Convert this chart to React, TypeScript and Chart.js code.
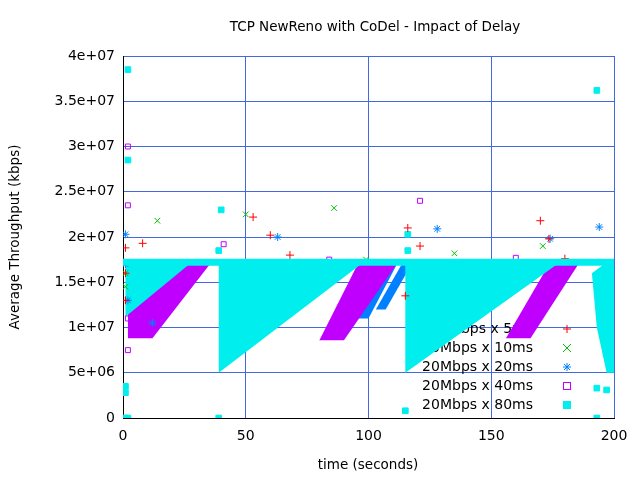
import { useEffect, useRef } from 'react'
import { Chart, registerables } from 'chart.js'

Chart.register(...registerables)

const FONT = '"DejaVu Sans", sans-serif'
const xTicks = [0, 50, 100, 150, 200]
const plateau = 1.72e7

const seriesNames = ['20Mbps x 5ms', '20Mbps x 10ms', '20Mbps x 20ms', '20Mbps x 40ms', '20Mbps x 80ms']
const seriesColors = ['#ff0000', '#00c000', '#0080ff', '#c000ff', '#00eeee']
const seriesStyles = ['cross', 'crossRot', 'star', 'rect', 'rect']

// scattered outliers, [time, kbps]
const pts5ms = [[1, 1.88e7], [1, 1.3e7], [1, 1.6e7], [8, 1.93e7], [53, 2.22e7], [60, 2.02e7], [68, 1.8e7], [116, 2.1e7], [121, 1.9e7], [115, 1.35e7], [170, 2.18e7], [173.5, 1.98e7], [180, 1.76e7]]
const pts10ms = [[1, 1.6e7], [1, 1.45e7], [14, 2.18e7], [50, 2.25e7], [86, 2.32e7], [99, 1.75e7], [135, 1.82e7], [171, 1.9e7]]
const pts20ms = [[1, 2.03e7], [1, 1.7e7], [2, 1.3e7], [12, 1.05e7], [63, 2e7], [128, 2.09e7], [174, 1.98e7], [194, 2.11e7]]
const pts40ms = [[2, 3e7], [2, 2.35e7], [2, 1.1e7], [2, 7.5e6], [41, 1.92e7], [84, 1.75e7], [121, 2.4e7], [160, 1.77e7]]
const pts80ms = [[2, 3.85e7], [2, 2.85e7], [1, 3.5e6], [1, 2.8e6], [1, 0], [2, 0], [40, 2.3e7], [39, 1.85e7], [39, 0], [116, 2.03e7], [116, 1.85e7], [115, 8e5], [193, 3.62e7], [193, 3.3e6], [197, 3.1e6], [193, 0]]

// dense sawtooth regions, outlines
const blueAreas = [
  [[10, 1.05e7], [14, 1.05e7], [30, plateau], [24, plateau]],
  [[52, 1.1e7], [56, 1.1e7], [68, plateau], [62, plateau]],
  [[96, 1.1e7], [100, 1.1e7], [112, plateau], [106, plateau]],
  [[103, 1.2e7], [107, 1.2e7], [118, plateau], [114, plateau]],
]
const purpleAreas = [
  [[2, 1.16e7], [2, 8.8e6], [12, 8.8e6], [36, plateau], [26, plateau]],
  [[80, 8.6e6], [90, 8.6e6], [112, plateau], [96, plateau]],
  [[156, 8.8e6], [166, 8.8e6], [186, plateau], [174, plateau]],
]
const cyanAreas = [
  [[1, plateau], [28, plateau], [1, 1.12e7]],
  [[39, plateau], [98, plateau], [39, 5e6]],
  [[115, plateau], [178, plateau], [115, 5e6]],
  [[191, 1.6e7], [197, plateau], [200, plateau], [200, 5e6], [197, 5e6], [193, 1e7]],
]

const toXY = (a: number[][]) => a.map(([x, y]) => ({ x, y }))

export default function App() {
  const ref = useRef<HTMLCanvasElement>(null)

  useEffect(() => {
    if (!ref.current) return
    const fmt = (v: number) => (v === 0 ? '0' : v.toExponential().replace(/e\+(\d)$/, 'e+0$1'))

    const decor = {
      id: 'decor',
      beforeDatasetsDraw(c: any) {
        const { ctx, scales, chartArea } = c
        ctx.save()
        // legend first, the data is drawn over it
        ctx.font = `14px ${FONT}`
        ctx.textAlign = 'right'
        ctx.textBaseline = 'middle'
        seriesNames.forEach((n, i) => {
          const y = 329 + i * 19
          ctx.fillStyle = '#000'
          ctx.fillText(n, 533, y)
          ctx.strokeStyle = seriesColors[i]
          ctx.fillStyle = seriesColors[i]
          ctx.lineWidth = 1
          const cx = 567
          if (i === 0) { ctx.beginPath(); ctx.moveTo(cx - 4, y); ctx.lineTo(cx + 4, y); ctx.moveTo(cx, y - 4); ctx.lineTo(cx, y + 4); ctx.stroke() }
          if (i === 1) { ctx.beginPath(); ctx.moveTo(cx - 4, y - 4); ctx.lineTo(cx + 4, y + 4); ctx.moveTo(cx - 4, y + 4); ctx.lineTo(cx + 4, y - 4); ctx.stroke() }
          if (i === 2) { ctx.beginPath(); ctx.moveTo(cx - 4, y); ctx.lineTo(cx + 4, y); ctx.moveTo(cx, y - 4); ctx.lineTo(cx, y + 4); ctx.moveTo(cx - 3, y - 3); ctx.lineTo(cx + 3, y + 3); ctx.moveTo(cx - 3, y + 3); ctx.lineTo(cx + 3, y - 3); ctx.stroke() }
          if (i === 3) ctx.strokeRect(cx - 3.5, y - 3.5, 7, 7)
          if (i === 4) ctx.fillRect(cx - 4, y - 4, 8, 8)
        })
        ctx.beginPath()
        ctx.rect(chartArea.left, chartArea.top, chartArea.width, chartArea.height)
        ctx.clip()
        const poly = (areas: number[][][], color: string) => {
          ctx.fillStyle = color
          areas.forEach(a => {
            ctx.beginPath()
            a.forEach(([x, y], k) => {
              const px = scales.x.getPixelForValue(x)
              const py = scales.y.getPixelForValue(y)
              if (k === 0) ctx.moveTo(px, py); else ctx.lineTo(px, py)
            })
            ctx.closePath()
            ctx.fill()
          })
        }
        poly(blueAreas, seriesColors[2])
        poly(purpleAreas, seriesColors[3])
        poly(cyanAreas, seriesColors[4])
        ctx.restore()
      },
      afterDraw(c: any) {
        const { ctx } = c
        ctx.save()
        ctx.fillStyle = '#000'
        ctx.font = `13.5px ${FONT}`
        ctx.textAlign = 'center'
        ctx.textBaseline = 'middle'
        ctx.fillText('TCP NewReno with CoDel - Impact of Delay', 375, 27)
        ctx.fillText('time (seconds)', 368, 465)
        ctx.translate(15, 237)
        ctx.rotate(-Math.PI / 2)
        ctx.fillText('Average Throughput (kbps)', 0, 0)
        ctx.restore()
      },
    }

    const scatter = (pts: number[][], i: number) => ({
      type: 'scatter' as const,
      label: seriesNames[i],
      data: toXY(pts),
      pointStyle: seriesStyles[i],
      borderColor: seriesColors[i],
      backgroundColor: i === 4 ? seriesColors[i] : 'rgba(0,0,0,0)',
      pointRadius: i === 3 ? 3.5 : 4,
      borderWidth: 1,
      showLine: false,
    })

    const chart = new Chart(ref.current, {
      type: 'scatter',
      data: {
        datasets: [
          {
            type: 'line',
            label: 'plateau',
            data: toXY([[0, plateau], [200, plateau]]),
            borderColor: seriesColors[4],
            borderWidth: 7,
            pointRadius: 0,
            showLine: true,
          } as any,
          scatter(pts5ms, 0),
          scatter(pts10ms, 1),
          scatter(pts20ms, 2),
          scatter(pts40ms, 3),
          scatter(pts80ms, 4),
        ],
      },
      options: {
        animation: false,
        responsive: false,
        layout: { padding: { top: 56, right: 26, left: 0, bottom: 0 } },
        plugins: { legend: { display: false }, tooltip: { enabled: false } },
        scales: {
          x: {
            type: 'linear', min: 0, max: 200,
            afterBuildTicks: (s: any) => { s.ticks = xTicks.map(v => ({ value: v })) },
            afterFit: (s: any) => { s.height = 62 },
            grid: { color: '#4169e1', drawTicks: false },
            border: { color: '#000', width: 1 },
            ticks: { color: '#000', font: { family: FONT, size: 14 }, padding: 10, maxRotation: 0 },
          },
          y: {
            type: 'linear', min: 0, max: 4e7,
            ticks: { stepSize: 5e6, color: '#000', font: { family: FONT, size: 14 }, padding: 8, callback: (v: any) => fmt(Number(v)) },
            afterFit: (s: any) => { s.width = 123 },
            grid: { color: '#4169e1', drawTicks: false },
            border: { color: '#000', width: 1 },
          },
        },
      },
      plugins: [decor],
    })
    return () => chart.destroy()
  }, [])

  return (
    <div style={{ width: 640, height: 480, margin: -8, background: '#fff' }}>
      <canvas ref={ref} width={640} height={480} />
    </div>
  )
}
